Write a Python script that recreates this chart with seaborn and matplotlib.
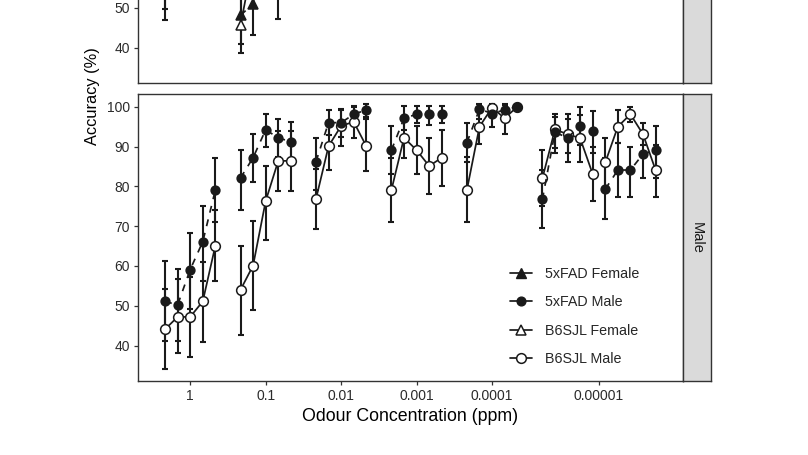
import numpy as np
import pandas as pd
import matplotlib
matplotlib.use("Agg")
import matplotlib.pyplot as plt
import seaborn as sns
from matplotlib.lines import Line2D

# ---------------- data ----------------
# session index along the x axis (5 sessions per concentration block)
session_x = [0, 1, 2, 3, 4,
             6, 7, 8, 9, 10,
             12, 13, 14, 15, 16,
             18, 19, 20, 21, 22,
             24, 25, 26, 27, 28,
             30, 31, 32, 33, 34,
             35, 36, 37, 38, 39]
block = [1] * 5 + [2] * 5 + [3] * 5 + [4] * 5 + [5] * 5 + [6] * 5 + [7] * 5

tick_pos = [2, 8, 14, 20, 26, 34.5]
tick_labels = ["1", "0.1", "0.01", "0.001", "0.0001", "0.00001"]

# Male panel
fad_male = [51.1, 50.2, 59.1, 66.1, 79.1,
            82.1, 87.2, 94.2, 92.2, 91.2,
            86.2, 96.0, 96.0, 98.1, 99.2,
            89.1, 97.1, 98.1, 98.1, 98.1,
            91.0, 99.4, 98.3, 99.2, 100.0,
            76.7, 93.6, 92.2, 95.2, 94.0,
            79.3, 84.1, 84.1, 88.1, 89.1]
fad_male_lo = [41.2, 41.2, 49.1, 56.1, 71.1,
               74.1, 81.0, 90.0, 87.4, 86.3,
               79.0, 92.8, 92.5, 96.0, 97.5,
               83.0, 94.2, 96.0, 95.5, 96.0,
               86.0, 97.0, 95.0, 97.5, 100.0,
               69.5, 89.6, 88.3, 90.4, 88.5,
               71.8, 77.2, 77.2, 82.2, 82.0]
fad_male_hi = [61.3, 59.2, 68.2, 75.1, 87.2,
               89.1, 93.1, 98.1, 96.9, 96.1,
               92.2, 99.2, 99.2, 100.2, 100.6,
               95.2, 100.2, 100.2, 100.2, 100.2,
               95.8, 100.6, 100.6, 100.6, 100.0,
               84.0, 97.5, 96.9, 100.0, 99.0,
               87.0, 91.0, 90.0, 94.0, 95.2]

b6_male = [44.1, 47.2, 47.2, 51.1, 65.1,
           54.0, 60.1, 76.3, 86.4, 86.4,
           76.8, 90.1, 95.2, 96.2, 90.1,
           79.1, 92.2, 89.1, 85.1, 87.2,
           79.1, 95.0, 99.8, 97.1, 100.0,
           82.0, 94.3, 93.1, 92.1, 83.1,
           86.0, 95.0, 98.1, 93.1, 84.1]
b6_male_lo = [34.1, 38.1, 37.2, 41.0, 56.2,
              42.7, 49.0, 66.4, 78.9, 78.9,
              69.2, 84.1, 90.2, 92.2, 83.9,
              71.1, 87.2, 83.1, 78.1, 80.2,
              71.1, 90.6, 99.0, 93.1, 100.0,
              75.0, 88.3, 86.2, 86.2, 76.2,
              79.5, 90.8, 96.2, 90.4, 77.2]
b6_male_hi = [54.2, 56.7, 57.2, 61.0, 74.1,
              65.1, 71.3, 85.1, 93.9, 94.0,
              84.4, 96.0, 99.5, 100.0, 96.9,
              87.1, 97.2, 95.2, 92.2, 94.2,
              87.3, 99.4, 100.5, 100.5, 100.0,
              89.1, 98.1, 98.1, 98.0, 90.0,
              92.2, 99.2, 100.0, 95.8, 90.4]

# Female panel (mostly above the visible crop)
fad_female = [57.0, 63.0, 67.0, 72.0, 78.0,
              48.1, 51.0, 72.0, 80.0, 84.0,
              88.0, 92.0, 95.0, 96.0, 97.0,
              90.0, 96.0, 97.0, 97.0, 98.0,
              92.0, 98.0, 99.0, 99.0, 100.0,
              84.0, 92.0, 94.0, 93.0, 92.0,
              85.0, 88.0, 90.0, 92.0, 91.0]
fad_female_lo = [49.75, 56.0, 59.0, 64.0, 70.0,
                 41.0, 43.1, 63.0, 72.0, 77.0,
                 81.0, 86.0, 90.0, 92.0, 93.0,
                 83.0, 91.0, 93.0, 93.0, 95.0,
                 86.0, 95.0, 96.0, 96.0, 100.0,
                 76.0, 86.0, 89.0, 87.0, 85.0,
                 78.0, 81.0, 84.0, 86.0, 84.0]
fad_female_hi = [64.2, 70.0, 75.0, 80.0, 86.0,
                 55.2, 58.9, 81.0, 88.0, 91.0,
                 95.0, 98.0, 100.0, 100.0, 100.5,
                 97.0, 100.0, 100.5, 100.5, 100.5,
                 98.0, 100.5, 100.5, 100.5, 100.0,
                 92.0, 98.0, 99.0, 99.0, 99.0,
                 92.0, 95.0, 96.0, 98.0, 98.0]

b6_female = [55.0, 61.0, 64.0, 68.0, 72.0,
             45.6, 62.0, 68.0, 60.0, 74.0,
             80.0, 88.0, 92.0, 93.0, 90.0,
             82.0, 90.0, 88.0, 86.0, 88.0,
             84.0, 94.0, 97.0, 96.0, 98.0,
             80.0, 90.0, 92.0, 90.0, 84.0,
             83.0, 91.0, 94.0, 90.0, 85.0]
b6_female_lo = [47.0, 55.0, 57.0, 61.0, 64.0,
                38.7, 55.0, 60.0, 47.2, 66.0,
                72.0, 82.0, 87.0, 88.0, 83.0,
                75.0, 84.0, 81.0, 79.0, 81.0,
                77.0, 89.0, 93.0, 91.0, 94.0,
                72.0, 84.0, 86.0, 83.0, 77.0,
                76.0, 85.0, 89.0, 84.0, 78.0]
b6_female_hi = [63.0, 67.0, 71.0, 75.0, 80.0,
                52.5, 69.0, 76.0, 72.8, 82.0,
                88.0, 94.0, 97.0, 98.0, 97.0,
                89.0, 96.0, 95.0, 93.0, 95.0,
                91.0, 99.0, 100.0, 100.0, 100.0,
                88.0, 96.0, 98.0, 97.0, 91.0,
                90.0, 97.0, 99.0, 96.0, 92.0]

# ---------------- long table ----------------
series = [
    ("5xFAD", "Female", fad_female, fad_female_lo, fad_female_hi),
    ("B6SJL", "Female", b6_female, b6_female_lo, b6_female_hi),
    ("5xFAD", "Male", fad_male, fad_male_lo, fad_male_hi),
    ("B6SJL", "Male", b6_male, b6_male_lo, b6_male_hi),
]
frames = []
for geno, sex, m, lo, hi in series:
    frames.append(pd.DataFrame({"x": session_x, "block": block, "genotype": geno,
                                "sex": sex, "acc": m, "lo": lo, "hi": hi}))
df = pd.concat(frames, ignore_index=True)

# ---------------- styling ----------------
sns.set_style("white")
plt.rcParams["font.family"] = ["Liberation Sans", "DejaVu Sans"]

INK = "#1a1a1a"
W, H = 808, 455
fig = plt.figure(figsize=(W / 100, H / 100), dpi=100)


def rect(l, t, r, b):
    return [l / W, 1 - b / H, (r - l) / W, (b - t) / H]


ax_f = fig.add_axes(rect(138, -204, 683, 83))
ax_m = fig.add_axes(rect(138, 94, 683, 381))
st_f = fig.add_axes(rect(683, -204, 711, 83))
st_m = fig.add_axes(rect(683, 94, 711, 381))

style = {
    ("5xFAD", "Female"): dict(marker="^", mfc=INK, ls=(0, (4, 4)), ms=7.4),
    ("B6SJL", "Female"): dict(marker="^", mfc="white", ls="-", ms=7.4),
    ("5xFAD", "Male"): dict(marker="o", mfc=INK, ls=(0, (4, 4)), ms=6.3),
    ("B6SJL", "Male"): dict(marker="o", mfc="white", ls="-", ms=7.0),
}

for sex, ax in (("Female", ax_f), ("Male", ax_m)):
    sub_sex = df[df["sex"] == sex]
    # error bars
    for geno in ("5xFAD", "B6SJL"):
        s = sub_sex[sub_sex["genotype"] == geno]
        ax.errorbar(s["x"], s["acc"],
                    yerr=[s["acc"] - s["lo"], s["hi"] - s["acc"]],
                    fmt="none", ecolor=INK, elinewidth=1.5, capsize=2.4,
                    capthick=1.5, zorder=1.5)
    # lines + markers (B6SJL first, 5xFAD on top)
    for geno in ("B6SJL", "5xFAD"):
        s = sub_sex[sub_sex["genotype"] == geno]
        st = style[(geno, sex)]
        sns.lineplot(data=s, x="x", y="acc", units="block", estimator=None,
                     ax=ax, color=INK, linewidth=1.25, linestyle=st["ls"],
                     marker=st["marker"], markersize=st["ms"],
                     markerfacecolor=st["mfc"], markeredgecolor=INK,
                     markeredgewidth=1.1, legend=False, zorder=3)

    ax.set_xlim(-2.15, 41.18)
    ax.set_ylim(31.1, 103.2)
    ax.set_xticks(tick_pos)
    ax.set_xlabel("")
    ax.set_ylabel("")
    ax.tick_params(axis="both", direction="out", length=3.2, width=0.9,
                   color="#333333", labelsize=10, labelcolor="#2b2b2b", pad=2.5,
                   left=True, bottom=True)
    for sp in ax.spines.values():
        sp.set_color("#333333")
        sp.set_linewidth(1.0)

# only the ticks that fall inside the visible crop of the upper panel
ax_f.set_yticks([40, 50])
ax_m.set_yticks([40, 50, 60, 70, 80, 90, 100])
ax_f.set_xticklabels([])
ax_f.tick_params(axis="x", length=0)
ax_m.set_xticklabels(tick_labels)

for st, lab in ((st_f, None), (st_m, "Male")):
    st.set_facecolor("#dadada")
    st.set_xticks([])
    st.set_yticks([])
    for sp in st.spines.values():
        sp.set_color("#333333")
        sp.set_linewidth(1.0)
    if lab:
        st.text(0.5, 0.5, lab, rotation=-90, ha="center", va="center",
                fontsize=10.5, color="#1a1a1a", transform=st.transAxes)

ax_m.set_xlabel("Odour Concentration (ppm)", fontsize=12.8, color="black", labelpad=4)
fig.text(92 / W, 1 - 96 / H, "Accuracy (%)", rotation=90, ha="center",
         va="center", fontsize=11.8, color="black")

handles = [
    Line2D([0], [0], color=INK, lw=1.25, marker="^", ms=7.4, mfc=INK, mec=INK),
    Line2D([0], [0], color=INK, lw=1.25, marker="o", ms=6.3, mfc=INK, mec=INK),
    Line2D([0], [0], color=INK, lw=1.25, marker="^", ms=7.4, mfc="white", mec=INK, mew=1.1),
    Line2D([0], [0], color=INK, lw=1.25, marker="o", ms=7.0, mfc="white", mec=INK, mew=1.1),
]
labels = ["5xFAD Female", "5xFAD Male", "B6SJL Female", "B6SJL Male"]
ax_m.legend(handles, labels, loc="center left",
            bbox_to_anchor=(497 / W, 1 - 316.5 / H), bbox_transform=fig.transFigure,
            frameon=False, fontsize=10.3, handlelength=1.55, handletextpad=0.9,
            labelspacing=0.99, borderpad=0.4)

fig.savefig("out.png", dpi=100)
